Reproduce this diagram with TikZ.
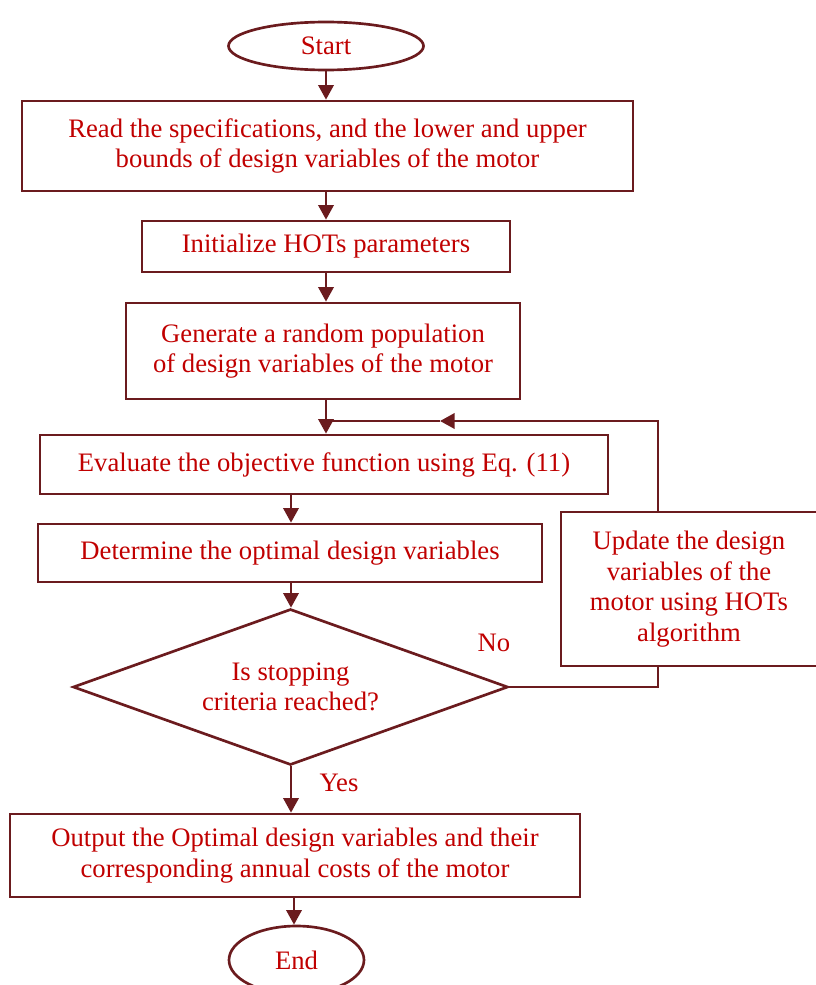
\documentclass[tikz,border=0pt]{standalone}
\usepackage{fontspec}
\setmainfont{Liberation Serif}
\usetikzlibrary{shapes.geometric,arrows.meta}
\definecolor{edgecol}{HTML}{6B1B1E}
\definecolor{txtcol}{HTML}{C00000}
\begin{document}
\begin{tikzpicture}[x=0.75pt,y=-0.75pt,
  every node/.style={font=\fontsize{20}{23}\selectfont, text=txtcol, align=center, inner sep=0pt},
  procbox/.style={draw=edgecol, line width=2pt, rectangle},
  term/.style={draw=edgecol, line width=2pt, ellipse},
  decis/.style={draw=edgecol, line width=2pt, diamond, aspect=2.8},
  conn/.style={draw=edgecol, line width=2pt},
  arr/.style={conn, -{Triangle[width=11.5pt,length=11pt]}},
  lbl/.style={text=txtcol}]
\useasboundingbox (0,0) rectangle (815,985);
\node[term, minimum width=195*0.75pt, minimum height=48*0.75pt] (start) at (326,46) {Start};
\node[procbox, minimum width=611*0.75pt, minimum height=90*0.75pt] (b1) at (327.5,146) {Read the specifications, and the lower and upper\\bounds of design variables of the motor};
\node[procbox, minimum width=368*0.75pt, minimum height=51*0.75pt] (b2) at (326,246.5) {Initialize HOTs parameters};
\node[procbox, minimum width=394*0.75pt, minimum height=96*0.75pt] (b3) at (323,351) {Generate a random population\\of design variables of the motor};
\node[procbox, minimum width=568*0.75pt, minimum height=59*0.75pt] (b4) at (324,464.5) {Evaluate the objective function using Eq. (11)};
\node[procbox, minimum width=504*0.75pt, minimum height=58*0.75pt] (b5) at (290,553) {Determine the optimal design variables};
\node[decis, minimum width=435*0.75pt, minimum height=156*0.75pt] (dec) at (290.5,687) {Is stopping\\criteria reached?};
\node[procbox, minimum width=256*0.75pt, minimum height=154*0.75pt] (b6) at (689,589) {Update the design\\variables of the\\motor using HOTs\\algorithm};
\node[procbox, minimum width=570*0.75pt, minimum height=83*0.75pt] (b7) at (295,855.5) {Output the Optimal design variables and their\\corresponding annual costs of the motor};
\node[term, minimum width=135*0.75pt, minimum height=68*0.75pt] (end) at (296.5,960) {End};
\node[lbl] (no) at (494,643) {No};
\node[lbl] (yes) at (339,783) {Yes};
% connectors
\draw[arr] (start.south) -- (b1.north -| start.south);
\draw[arr] (b1.south -| start.south) -- (b2.north -| start.south);
\draw[arr] (b2.south -| start.south) -- (b3.north -| start.south);
\draw[arr] (b3.south -| start.south) -- (b4.north -| start.south);
\coordinate (b4o) at (291,494);
\draw[arr] (b4o) -- (b5.north -| b4o);
\draw[arr] (b5.south -| b4o) -- (dec.north -| b4o);
\draw[arr] (dec.south -| b4o) -- (b7.north -| b4o);
\coordinate (b7o) at (294,897);
\draw[arr] (b7o) -- (end.north -| b7o);
% loop
\coordinate (lx) at (658,687);
\coordinate (ltop) at (658,421);
\coordinate (lmid) at (440,421);
\coordinate (ljoin) at (326,421);
\draw[conn] (dec.east) -- (lx) -- (b6.south -| lx);
\draw[arr] (b6.north -| lx) -- (ltop) -- (lmid);
\draw[conn] (lmid) -- (ljoin);
\end{tikzpicture}
\end{document}
